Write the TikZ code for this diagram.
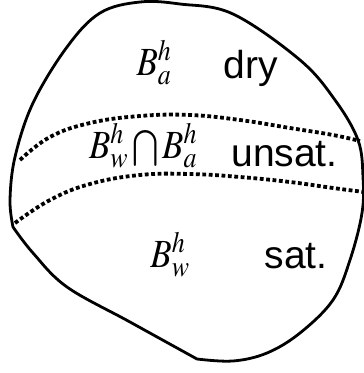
\documentclass[tikz,border=0pt]{standalone}
\usepackage{graphicx}
\usepackage{mathptmx}
\usepackage{fontspec}
\setmainfont{Liberation Sans}
\usepackage{tikz}
\usetikzlibrary{positioning}
\newcommand{\tallset}[1]{\scalebox{1}[1.14]{$#1$}}

\begin{document}
\begin{tikzpicture}[
  x=1pt, y=-1pt,
  outline/.style={draw=black, line width=2.8pt, line join=round},
  border/.style={draw=black, line width=3.8pt, dash pattern=on 3.8pt off 2.6pt},
  zone/.style={anchor=base, inner sep=0pt, font=\fontsize{39}{46}\selectfont},
  settxt/.style={anchor=base, inner sep=0pt, font=\fontsize{35}{42}\selectfont}
]
\useasboundingbox (0,0) rectangle (364,373);
% domain
\draw[outline] plot[smooth, tension=0.6] coordinates {(13,227) (10,200) (15,157) (33,103) (67,47) (100,13) (140,2) (180,4) (233,14) (300,60) (335,100) (358,140) (363,177) (362,213) (350,260) (333,300) (300,333) (267,353) (233,361) (197,359)}
  -- plot[smooth, tension=0.6] coordinates {(197,359) (130,322) (67,287) (33,253) (13,227)} -- cycle;
% fronts
\draw[border] plot[smooth, tension=0.7] coordinates {(20,160) (50,137) (90,123) (140,116) (190,115) (240,120) (290,128) (333,135) (360,141)};
\draw[border] plot[smooth, tension=0.7] coordinates {(15,223) (50,200) (90,184) (140,175) (190,174) (240,177) (290,182) (333,188) (364,192)};
% labels
\node[settxt] (ba) at (154,75) {\tallset{B^h_a}};
\node[zone] (dry) at (251,78) {dry};
\node[settxt] (bwba) at (143,158) {\tallset{B^h_w\bigcap B^h_a}};
\node[zone] (unsat) at (284.5,166.5) {unsat.};
\node[settxt] (bw) at (170,267) {\tallset{B^h_w}};
\node[zone] (sat) at (296,268) {sat.};
\end{tikzpicture}
\end{document}
